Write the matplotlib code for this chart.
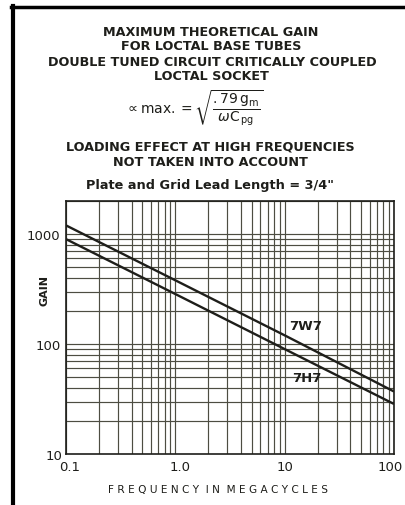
import matplotlib
matplotlib.use("Agg")
import matplotlib.pyplot as plt
import matplotlib.transforms as mtransforms
from matplotlib.ticker import FixedLocator, FixedFormatter, LogLocator, NullFormatter
from matplotlib.lines import Line2D

freq = [0.1, 1.0, 10, 100]
gain_7w7 = [1200, 380, 120, 37]
gain_7h7 = [900, 285, 90, 28.5]
xtick_vals = [0.1, 1.0, 10, 100]
xtick_labels = ["0.1", "1.0", "10", "100"]
ytick_vals = [100, 1000]
ytick_labels = ["100", "1000"]

ink = "#1e1e1a"
grid = "#4d4d42"

plt.rcParams['font.family'] = ['DejaVu Sans']
plt.rcParams['mathtext.fontset'] = 'dejavusans'

fig = plt.figure(figsize=(4.06, 5.06), dpi=100)
W, H = 406, 506

def fx(px):
    return px / W
def fy(py):
    return 1 - py / H

ax = fig.add_axes([fx(66), fy(455), fx(394) - fx(66), fy(202) - fy(455)])
ax.set_xscale('log')
ax.set_yscale('log')
ax.set_xlim(0.1, 100)
ax.set_ylim(10, 2000)

ax.plot(freq, gain_7w7, color=ink, lw=1.7, solid_capstyle='butt')
ax.plot(freq, gain_7h7, color=ink, lw=1.7, solid_capstyle='butt')

ax.xaxis.set_major_locator(FixedLocator(xtick_vals))
ax.xaxis.set_major_formatter(FixedFormatter(xtick_labels))
ax.xaxis.set_minor_locator(LogLocator(base=10, subs=range(2, 10)))
ax.xaxis.set_minor_formatter(NullFormatter())
ax.yaxis.set_major_locator(FixedLocator(ytick_vals))
ax.yaxis.set_major_formatter(FixedFormatter(ytick_labels))
ax.yaxis.set_minor_locator(LogLocator(base=10, subs=range(2, 10)))
ax.yaxis.set_minor_formatter(NullFormatter())
ax.grid(True, which='both', color=grid, lw=0.85)
ax.tick_params(which='both', length=0, labelsize=9.5, colors=ink, pad=4)
for s in ax.spines.values():
    s.set_color(ink)
    s.set_linewidth(1.2)

fig.canvas.draw()
shifts = [4, 5, 0, -4]
for lbl, sh in zip(ax.get_xticklabels(), shifts):
    lbl.set_transform(lbl.get_transform() + mtransforms.ScaledTranslation(sh / 100, 0, fig.dpi_scale_trans))

# corner label "10"
fig.text(fx(54), fy(457), "10", ha='center', va='center', fontsize=9.5, color=ink)

ax.text(15.4, 149, "7W7", ha='center', va='center', fontsize=9.5, fontweight='bold', color=ink)
ax.text(16.0, 50, "7H7", ha='center', va='center', fontsize=9.5, fontweight='bold', color=ink)

fig.text(fx(218), fy(490), "F R E Q U E N C Y  I N  M E G A C Y C L E S",
         ha='center', va='center', fontsize=7.6, color=ink)
fig.text(fx(45), fy(290), "GAIN", ha='center', va='center', fontsize=8, rotation=90,
         color=ink, fontweight='bold')

title_lines = [
    ("MAXIMUM THEORETICAL GAIN", 211, 32),
    ("FOR LOCTAL BASE TUBES", 211, 46),
    ("DOUBLE TUNED CIRCUIT CRITICALLY COUPLED", 212, 62),
    ("LOCTAL SOCKET", 211, 77),
    ("LOADING EFFECT AT HIGH FREQUENCIES", 210, 147),
    ("NOT TAKEN INTO ACCOUNT", 210, 163),
]
for t, x, y in title_lines:
    fig.text(fx(x), fy(y), t, ha='center', va='center', fontsize=9.2, color=ink, fontweight='bold')

fig.text(fx(210), fy(185), 'Plate and Grid Lead Length = 3/4"', ha='center', va='center',
         fontsize=9.3, color=ink, fontweight='bold')

fig.text(fx(194), fy(108), r'$\propto\mathrm{max.} = \sqrt{\dfrac{.79\,\mathrm{g_m}}{\omega\mathrm{C}_{\,\mathrm{pg}}}}$',
         ha='center', va='center', fontsize=10, color=ink)

# border lines (left and top)
fig.add_artist(Line2D([fx(13), fx(13)], [fy(7), fy(506)], color='black', lw=3))
fig.add_artist(Line2D([fx(11), fx(406)], [fy(8), fy(8)], color='black', lw=2.5))

fig.savefig("out.png", dpi=100)
